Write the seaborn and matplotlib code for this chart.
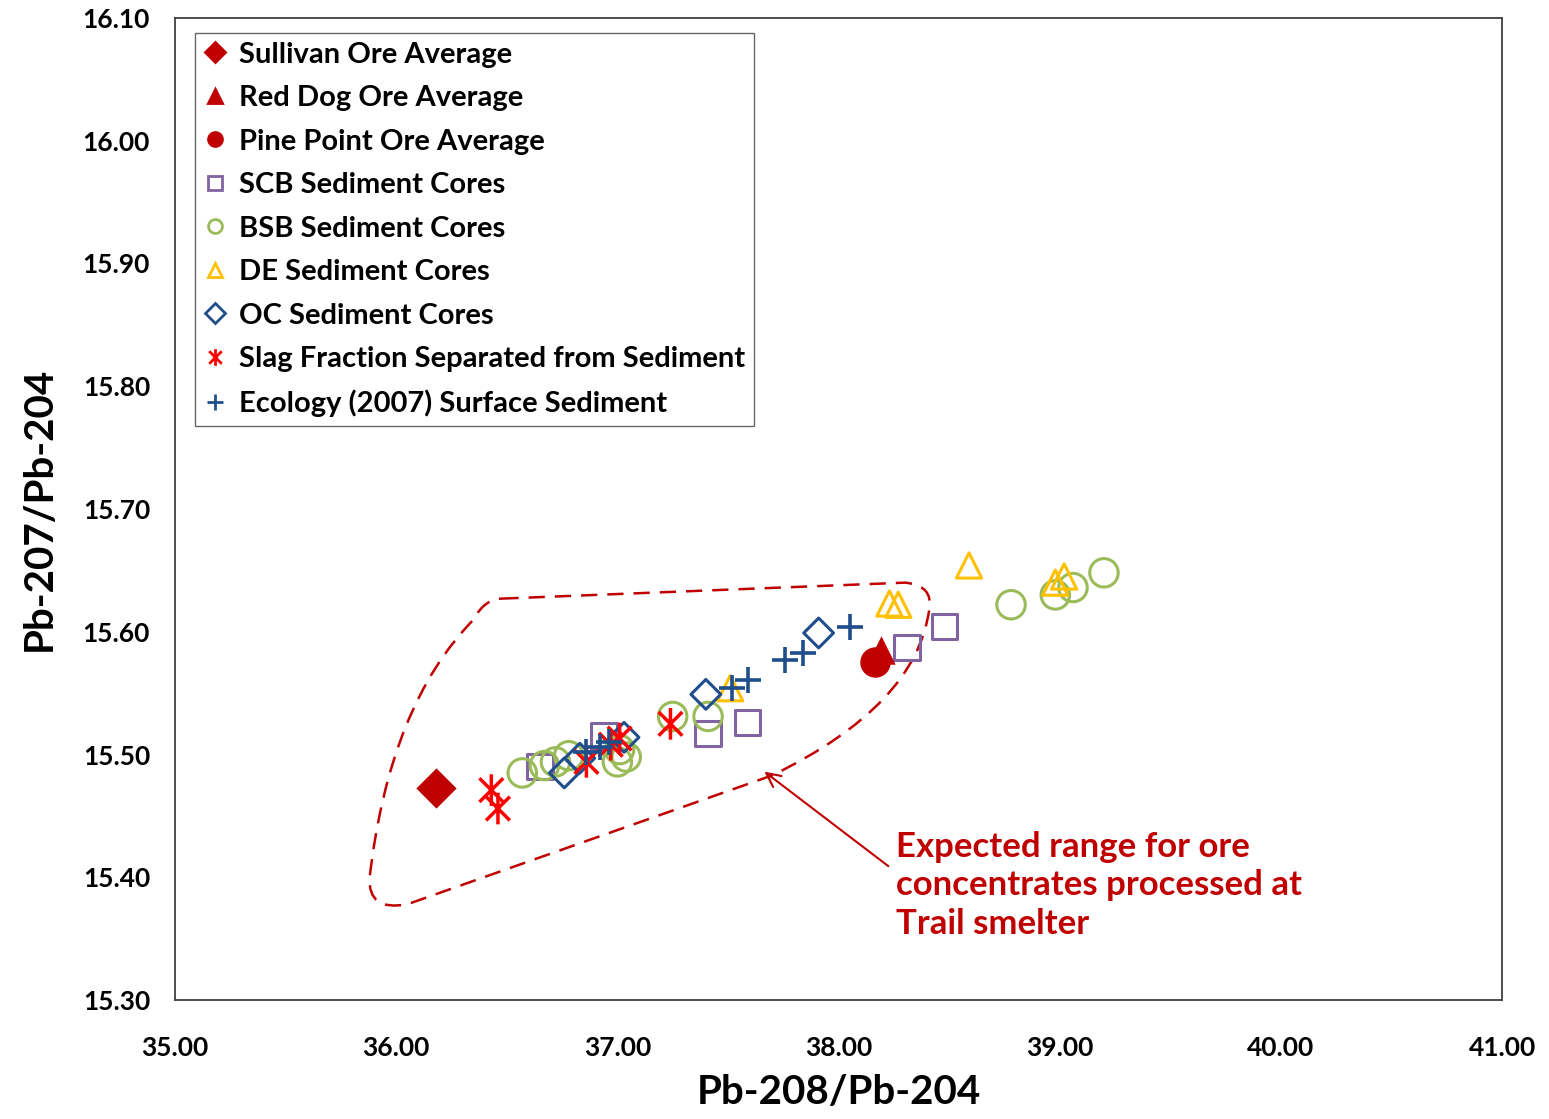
import numpy as np
import pandas as pd
import matplotlib
matplotlib.use("Agg")
import matplotlib.pyplot as plt
from matplotlib.path import Path
from matplotlib.patches import PathPatch
import seaborn as sns

# ---- data ----
sullivan_x = [36.18]; sullivan_y = [15.473]
reddog_x = [38.19]; reddog_y = [15.585]
pine_x = [38.165]; pine_y = [15.575]
scb_x = [36.65, 36.94, 37.41, 37.59, 38.31, 38.48]
scb_y = [15.490, 15.515, 15.517, 15.526, 15.587, 15.604]
bsb_x = [36.57, 36.67, 36.72, 36.78, 37.00, 37.01, 37.04, 37.25, 37.41, 38.78, 38.98, 39.06, 39.20]
bsb_y = [15.485, 15.491, 15.494, 15.499, 15.494, 15.504, 15.498, 15.531, 15.531, 15.622, 15.630, 15.636, 15.648]
de_x = [37.51, 38.23, 38.27, 38.59, 38.98, 39.02]
de_y = [15.554, 15.623, 15.622, 15.654, 15.640, 15.645]
oc_x = [36.76, 36.83, 37.03, 37.40, 37.91]
oc_y = [15.485, 15.497, 15.514, 15.549, 15.599]
slag_x = [36.43, 36.46, 36.86, 36.97, 37.01, 37.24]
slag_y = [15.471, 15.456, 15.494, 15.508, 15.513, 15.525]
eco_x = [36.86, 36.92, 36.96, 37.52, 37.59, 37.76, 37.84, 38.05]
eco_y = [15.502, 15.506, 15.510, 15.554, 15.561, 15.577, 15.583, 15.604]

x_ticks = [35, 36, 37, 38, 39, 40, 41]
y_ticks = [15.30, 15.40, 15.50, 15.60, 15.70, 15.80, 15.90, 16.00, 16.10]

sns.set_style("white")
plt.rcParams['font.family'] = ['Lato', 'DejaVu Sans']
plt.rcParams['text.color'] = 'black'
plt.rcParams['axes.labelcolor'] = 'black'

fig = plt.figure(figsize=(15.49, 11.19), dpi=100)
ax = fig.add_axes([0.113, 0.1063, 0.8567, 0.8777])

star = Path([(0, -1), (0, 1), (-0.75, -0.75), (0.75, 0.75), (-0.75, 0.75), (0.75, -0.75)],
            [Path.MOVETO, Path.LINETO, Path.MOVETO, Path.LINETO, Path.MOVETO, Path.LINETO])

dark_red = "#C00000"
# kind: 'filled', 'open', 'line' (path asterisk), 'plus'
series = [
    ("Sullivan Ore Average", sullivan_x, sullivan_y, "D", dark_red, "filled", 420),
    ("Red Dog Ore Average", reddog_x, reddog_y, "^", dark_red, "filled", 420),
    ("Pine Point Ore Average", pine_x, pine_y, "o", dark_red, "filled", 480),
    ("SCB Sediment Cores", scb_x, scb_y, "s", "#8064A2", "open", 330),
    ("BSB Sediment Cores", bsb_x, bsb_y, "o", "#9BBB59", "open", 420),
    ("DE Sediment Cores", de_x, de_y, "^", "#FFC000", "open", 330),
    ("OC Sediment Cores", oc_x, oc_y, "D", "#1F4E8C", "open", 230),
    ("Slag Fraction Separated from Sediment", slag_x, slag_y, star, "#FF0000", "line", 520),
    ("Ecology (2007) Surface Sediment", eco_x, eco_y, "+", "#1F4E8C", "plus", 360),
]

handles = []
for name, xs, ys, mk, col, kind, size in series:
    df = pd.DataFrame({"x": xs, "y": ys})
    if kind == "filled":
        sns.scatterplot(data=df, x="x", y="y", ax=ax, marker=mk, s=size, color=col,
                        edgecolor=col, linewidth=0, zorder=4)
    elif kind == "open":
        sns.scatterplot(data=df, x="x", y="y", ax=ax, marker=mk, s=size, facecolors="none",
                        edgecolor=col, linewidth=2.2, zorder=3)
    elif kind == "line":
        sns.scatterplot(data=df, x="x", y="y", ax=ax, marker=mk, s=size, facecolors="none",
                        edgecolor=col, linewidth=2.5, zorder=3)
    else:
        sns.scatterplot(data=df, x="x", y="y", ax=ax, marker=mk, s=size, color=col,
                        linewidth=2.6, zorder=3)
    h = plt.Line2D([], [], linestyle="none", marker=mk,
                   markersize=10 if kind in ("filled", "open") else 12,
                   markerfacecolor=(col if kind == "filled" else "none"),
                   markeredgecolor=col, markeredgewidth=2.0, color=col)
    handles.append((h, name))

# dashed envelope annotation
verts = [(36.48, 15.627), (38.30, 15.640), (38.43, 15.638), (38.41, 15.618),
         (38.35, 15.54), (37.70, 15.483), (36.05, 15.378), (35.87, 15.372),
         (35.88, 15.40), (35.97, 15.54), (36.35, 15.61), (36.40, 15.627), (36.48, 15.627)]
codes = [Path.MOVETO, Path.LINETO, Path.CURVE3, Path.CURVE3, Path.CURVE3, Path.CURVE3,
         Path.LINETO, Path.CURVE3, Path.CURVE3, Path.CURVE3, Path.CURVE3,
         Path.CURVE3, Path.CURVE3]
ax.add_patch(PathPatch(Path(verts, codes), facecolor="none", edgecolor=dark_red,
                       linestyle=(0, (6.5, 4)), linewidth=1.8, zorder=2))

ax.annotate("Expected range for ore\nconcentrates processed at\nTrail smelter",
            xy=(37.665, 15.486), xytext=(38.26, 15.438), textcoords="data",
            color=dark_red, fontsize=25, fontweight="bold", ha="left", va="top",
            linespacing=1.25,
            arrowprops=dict(arrowstyle="->", color=dark_red, lw=1.5,
                            shrinkA=4, shrinkB=0, mutation_scale=25,
                            relpos=(0, 0.62)))

ax.set_xlim(35, 41)
ax.set_ylim(15.30, 16.10)
ax.set_xticks(x_ticks)
ax.set_yticks(y_ticks)
ax.set_xticklabels([f"{v:.2f}" for v in x_ticks], fontsize=19, fontweight="bold")
ax.set_yticklabels([f"{v:.2f}" for v in y_ticks], fontsize=19, fontweight="bold")
ax.tick_params(axis="both", direction="out", length=6, width=1.2, color="#404040",
               labelcolor="black")
ax.tick_params(axis="x", pad=20)
ax.tick_params(axis="y", pad=12)
ax.set_xlabel("Pb-208/Pb-204", fontsize=29, fontweight="bold", labelpad=10)
ax.set_ylabel("Pb-207/Pb-204", fontsize=29, fontweight="bold", labelpad=18)
for sp in ax.spines.values():
    sp.set_color("#404040")
    sp.set_linewidth(1.3)

leg = ax.legend([h for h, _ in handles], [n for _, n in handles], loc="upper left",
                bbox_to_anchor=(0.0151, 0.9847), frameon=True, fancybox=False,
                edgecolor="#404040", prop={"size": 21, "weight": "bold"},
                handlelength=0.8, handletextpad=0.4, labelspacing=0.6,
                borderpad=0.3, borderaxespad=0)
leg.get_frame().set_linewidth(1.0)
for t in leg.get_texts():
    t.set_color("black")

fig.savefig("out.png", dpi=100)
